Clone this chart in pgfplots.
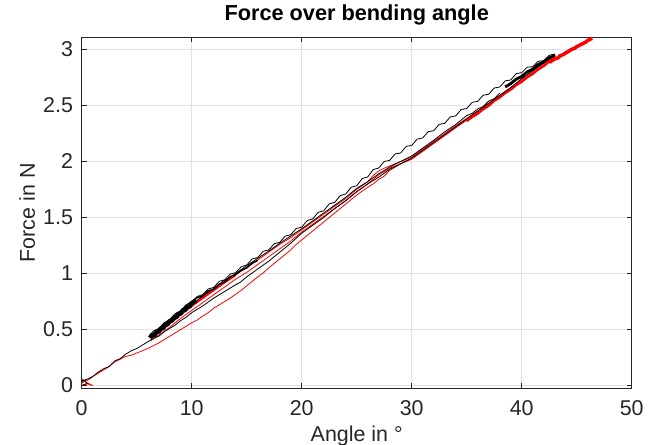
\documentclass[border=0pt]{standalone}
\usepackage{fontspec}
\setmainfont{Liberation Sans}
\usepackage{pgfplots}
\pgfplotsset{compat=1.18}
\definecolor{axc}{RGB}{38,38,38}
\definecolor{gridc}{RGB}{225,225,225}
\begin{document}
\begin{tikzpicture}
\begin{axis}[
  scale only axis, width=550bp, height=350.5bp,
  xmin=0, xmax=50, ymin=-0.022, ymax=3.107,
  xtick={0,10,20,30,40,50}, ytick={0,0.5,1,1.5,2,2.5,3},
  grid=major, major grid style={gridc, line width=0.8bp},
  axis line style={axc, line width=1bp},
  tick style={axc, line width=1bp},
  major tick length=5bp, tick align=inside, tick pos=both,
  /pgf/number format/assume math mode=true,
  ticklabel style={font=\fontsize{21.5}{25}\selectfont, text=axc},
  yticklabel style={/pgf/number format/fixed, inner sep=0pt, xshift=-8.5bp},
  xticklabel style={inner sep=0pt, yshift=-12bp},
  title={\textbf{Force over bending angle}},
  title style={font=\fontsize{21.8}{26}\selectfont, text=black, at={(axis description cs:0.5,1)}, anchor=base, yshift=10.8bp},
  xlabel={Angle in °},
  xlabel style={font=\fontsize{21.5}{25}\selectfont, text=axc, at={(axis description cs:0.5,0)}, anchor=base, yshift=-53.7bp},
  ylabel={Force in N},
  ylabel style={font=\fontsize{21.5}{25}\selectfont, text=axc, at={(axis description cs:0,0.5)}, anchor=base, yshift=46.7bp},
  every axis plot/.append style={line width=0.8bp, line join=round},
]
% red lowest (from origin)
\addplot[red] coordinates {(0,0.02)(0.3,0.04)(0.6,0.05)(1,0.08)(1.5,0.11)(2,0.14)(2.5,0.17)(3,0.21)(3.5,0.235)(4,0.26)(4.5,0.27)(5,0.29)(5.5,0.31)(6,0.33)(6.5,0.355)(7,0.38)(7.5,0.41)(8,0.44)(8.5,0.47)(9,0.5)(9.5,0.53)(10,0.56)(10.5,0.585)(11,0.62)(11.5,0.65)(12,0.69)(12.5,0.72)(13,0.75)(13.5,0.78)(14,0.815)(14.5,0.85)(15,0.89)(15.5,0.93)(16,0.97)(16.5,1.005)(17,1.05)(17.5,1.09)(18,1.13)(18.5,1.17)(19,1.21)(19.5,1.26)(20,1.3)(21,1.38)(22,1.46)(23,1.54)(24,1.62)(25,1.70)(26,1.77)(26.5,1.80)(27,1.84)(27.5,1.87)(28,1.92)(29,1.98)(30,2.03)(31,2.1)(32,2.17)(33,2.24)(34,2.31)(35,2.37)};
% red medium-thick part near top
\addplot[red, line width=2bp] coordinates {(35,2.36)(35.5,2.395)(36,2.425)(36.5,2.465)(37,2.495)(37.5,2.54)(38,2.57)(38.5,2.61)(39,2.64)(39.5,2.68)(40,2.71)(40.5,2.75)(41,2.78)(41.5,2.82)(42,2.85)(42.5,2.89)(43,2.915)};
% red thick end part
\addplot[red, line width=3.5bp] coordinates {(42.5,2.885)(43,2.915)(43.3,2.925)(43.5,2.945)(43.8,2.955)(44,2.97)(44.3,2.985)(44.5,3.0)(44.8,3.01)(45,3.025)(45.3,3.04)(45.5,3.05)(45.8,3.065)(46,3.08)(46.4,3.10)};
% red middle
\addplot[red] coordinates {(6.3,0.40)(7,0.45)(8,0.52)(9,0.60)(10,0.67)(11,0.74)(12,0.81)(13,0.88)(14,0.95)(15,1.01)(16,1.08)(17,1.15)(18,1.22)(19,1.29)(20,1.37)(21,1.44)(22,1.51)(23,1.58)(24,1.65)(25,1.73)(26,1.80)(26.5,1.84)(27,1.88)(27.5,1.91)(28,1.94)(29,1.98)(30,2.02)(32,2.16)(34,2.30)(36,2.44)(38,2.58)(40,2.72)(42,2.86)(43,2.93)};
% red upper
\addplot[red] coordinates {(6.2,0.43)(7,0.49)(8,0.57)(9,0.65)(10,0.72)(11,0.79)(12,0.86)(13,0.93)(14,0.99)(15,1.05)(16,1.12)(17,1.19)(18,1.26)(19,1.32)(20,1.39)(21,1.46)(22,1.53)(23,1.60)(24,1.67)(25,1.75)(26,1.82)(26.5,1.875)(27,1.915)(27.5,1.94)(28,1.96)(29,2.0)(30,2.04)(31,2.11)(32,2.18)(34,2.32)(36,2.45)(38,2.59)(40,2.73)(42,2.87)(43,2.94)};
% red thick inside band
\addplot[red, line width=1.8bp] coordinates {(6.4,0.43)(7,0.475)(8,0.555)(9,0.635)(10,0.71)(11,0.78)(12,0.85)(13,0.92)(14,0.985)};
% red artefact at origin
\addplot[red] coordinates {(0,0.06)(0.4,0.03)(1.0,0.0)(0.5,0.015)(0,0.0)};
% black lower (from origin)
\addplot[black] coordinates {(0,0.03)(0.3,0.05)(0.6,0.06)(1,0.08)(1.5,0.12)(2,0.15)(2.5,0.17)(3,0.22)(3.5,0.24)(4,0.28)(4.5,0.31)(5,0.33)(5.5,0.36)(6,0.39)(6.5,0.42)(7,0.44)(7.5,0.48)(8,0.51)(8.5,0.54)(9,0.58)(9.5,0.61)(10,0.65)(11,0.71)(12,0.78)(13,0.84)(14,0.90)(14.4,0.92)(15,0.97)(16,1.04)(17,1.11)(18,1.19)(19,1.27)(20,1.36)(21,1.43)(22,1.50)(23,1.58)(24,1.65)(25,1.73)(26,1.80)(27,1.86)(28,1.93)(29,1.98)(30,2.03)(31,2.10)(32,2.17)(33,2.24)(34,2.31)(35,2.38)(36,2.45)(37,2.52)(38,2.59)(39,2.66)(40,2.74)(41,2.81)(42,2.88)(43,2.95)};
% black artefact at origin
\addplot[black] coordinates {(0,0.0)(0.5,0.02)(0.2,0.05)(0,0.04)};
% black upper noisy
\addplot[black] coordinates {(6.2,0.45)(6.5,0.485)(7,0.51)(7.5,0.562)(8,0.588)(8.5,0.642)(9,0.668)(9.5,0.722)(10,0.748)(10.5,0.795)(11,0.812)(11.5,0.862)(12,0.876)(12.5,0.93)(13,0.944)(13.5,0.995)(14,1.008)(14.5,1.06)(15,1.076)(15.5,1.13)(16,1.142)(16.5,1.198)(17,1.21)(17.5,1.266)(18,1.278)(18.5,1.334)(19,1.346)(19.5,1.402)(20,1.414)(20.5,1.472)(21,1.488)(21.5,1.546)(22,1.56)(22.5,1.622)(23,1.635)(23.5,1.695)(24,1.71)(24.5,1.77)(25,1.783)(25.5,1.848)(26,1.862)(26.5,1.928)(27,1.942)(27.5,2.0)(28,2.01)(28.5,2.068)(29,2.076)(29.5,2.135)(30,2.143)(30.5,2.2)(31,2.21)(31.5,2.266)(32,2.275)(32.5,2.332)(33,2.34)(33.5,2.398)(34,2.407)(34.5,2.464)(35,2.473)(35.5,2.528)(36,2.537)(36.5,2.592)(37,2.6)(37.5,2.656)(38,2.665)(38.5,2.72)(39,2.728)(39.5,2.784)(40,2.793)(40.5,2.842)(41,2.846)(41.5,2.895)(42,2.9)(42.5,2.948)(43,2.96)};
% black second noisy (near bundle)
\addplot[black] coordinates {(10,0.72)(11,0.80)(12,0.865)(13,0.94)(14,1.0)(15,1.07)(16,1.135)(17,1.2)(18,1.27)(19,1.335)(20,1.40)(21,1.47)(22,1.54)(23,1.61)(24,1.68)(25,1.76)(26,1.82)(27,1.89)(28,1.95)(29,2.0)(30,2.05)(31,2.12)(32,2.19)(33,2.265)(34,2.33)(35,2.41)(35.5,2.43)(36,2.47)(36.5,2.49)(37,2.54)(37.5,2.56)(38,2.61)};
% black noisy medium band 10-16
\addplot[black, line width=1.5bp] coordinates {(10,0.745)(10.5,0.785)(11,0.80)(11.5,0.845)(12,0.86)(12.5,0.905)(13,0.925)(13.5,0.97)(14,0.99)(14.5,1.03)(15,1.05)(15.5,1.095)(16,1.115)};
% black thick start band
\addplot[black, line width=4.5bp] coordinates {(6.2,0.425)(6.4,0.452)(6.6,0.448)(6.8,0.478)(7.0,0.482)(7.2,0.51)(7.4,0.512)(7.6,0.544)(7.8,0.546)(8.0,0.576)(8.2,0.578)(8.4,0.608)(8.6,0.61)(8.8,0.64)(9.0,0.642)(9.2,0.672)(9.4,0.674)(9.6,0.704)(9.8,0.706)(10,0.735)(10.4,0.76)};
% black thick end band
\addplot[black, line width=2.8bp] coordinates {(38.5,2.665)(39,2.695)(39.5,2.735)(40,2.76)(40.5,2.80)(41,2.825)(41.5,2.865)(42,2.89)(42.5,2.925)(43.05,2.95)};
\end{axis}
\pgfresetboundingbox
\path[use as bounding box] (-81.7bp,-57bp) rectangle (570.3bp,388bp);
\end{tikzpicture}
\end{document}
